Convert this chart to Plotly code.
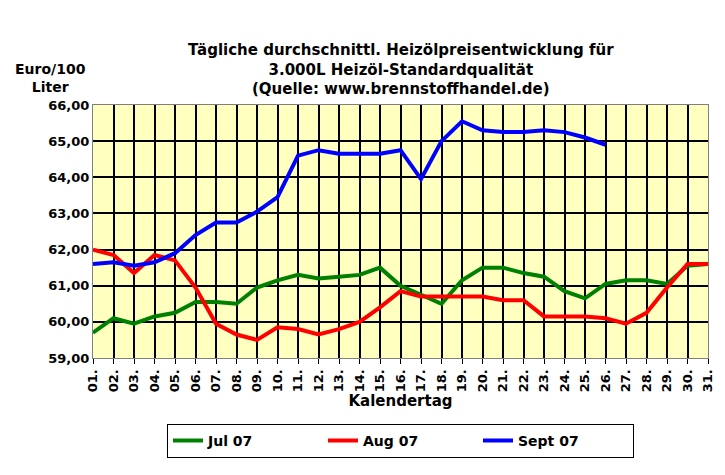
import plotly.graph_objects as go

days = [f"{d:02d}." for d in range(1, 32)]
jul = [59.7, 60.1, 59.95, 60.15, 60.25, 60.55, 60.55, 60.5, 60.95, 61.15, 61.3, 61.2, 61.25, 61.3, 61.5, 61.0,
       60.75, 60.5, 61.15, 61.5, 61.5, 61.35, 61.25, 60.85, 60.65, 61.05, 61.15, 61.15, 61.05, 61.55, 61.6]
aug = [62.0, 61.85, 61.35, 61.85, 61.7, 60.95, 59.95, 59.65, 59.5, 59.85, 59.8, 59.65, 59.8, 60.0, 60.4, 60.85,
       60.7, 60.7, 60.7, 60.7, 60.6, 60.6, 60.15, 60.15, 60.15, 60.1, 59.95, 60.25, 60.95, 61.6, 61.6]
sept = [61.6, 61.65, 61.55, 61.65, 61.9, 62.4, 62.75, 62.75, 63.05, 63.45, 64.6, 64.75, 64.65, 64.65, 64.65, 64.75,
        63.95, 65.0, 65.55, 65.3, 65.25, 65.25, 65.3, 65.25, 65.1, 64.9]
yticks = [59, 60, 61, 62, 63, 64, 65, 66]

fig = go.Figure()
for name, vals, col in [("Jul 07", jul, "#008000"), ("Aug 07", aug, "#FF0000"), ("Sept 07", sept, "#0000FF")]:
    fig.add_trace(go.Scatter(x=days[:len(vals)], y=vals, name=f"<b>{name}</b>", mode="lines",
                             line=dict(color=col, width=4)))

fig.update_layout(
    width=725, height=475, paper_bgcolor="white", plot_bgcolor="#FFFFC0",
    margin=dict(l=85, r=25, t=97, b=125, autoexpand=False),
    font=dict(family="DejaVu Sans", size=12, color="black"),
    xaxis=dict(type="category", categoryorder="array", categoryarray=days, tickangle=-90,
               showgrid=True, gridcolor="black", gridwidth=2, showline=True, linecolor="gray", mirror=True,
               ticks="outside", tickcolor="black", tickfont=dict(size=13), tickprefix="<b>", ticksuffix="</b>",
               title=dict(text="<b>Kalendertag</b>", font=dict(size=15), standoff=2)),
    yaxis=dict(range=[59, 66], tickvals=yticks, ticktext=[f"<b>{v},00</b>" for v in yticks],
               showgrid=True, gridcolor="black", gridwidth=2, showline=True, linecolor="gray", mirror=True,
               tickfont=dict(size=13)),
    legend=dict(orientation="h", x=0.5, xanchor="center", y=-0.26, yanchor="top",
                bordercolor="black", borderwidth=1, font=dict(size=14), entrywidth=110),
    showlegend=True,
)
fig.add_annotation(text="<b>Tägliche durchschnittl. Heizölpreisentwicklung für<br>3.000L Heizöl-Standardqualität<br>(Quelle: www.brennstoffhandel.de)</b>",
                   xref="paper", yref="paper", x=0.5, y=1.02, xanchor="center", yanchor="bottom",
                   showarrow=False, font=dict(size=15), align="center")
fig.add_annotation(text="<b>Euro/100<br>Liter</b>", xref="paper", yref="paper", x=-0.13, y=1.03,
                   xanchor="left", yanchor="bottom", showarrow=False, font=dict(size=14), align="center")
fig.write_html("out.html")
